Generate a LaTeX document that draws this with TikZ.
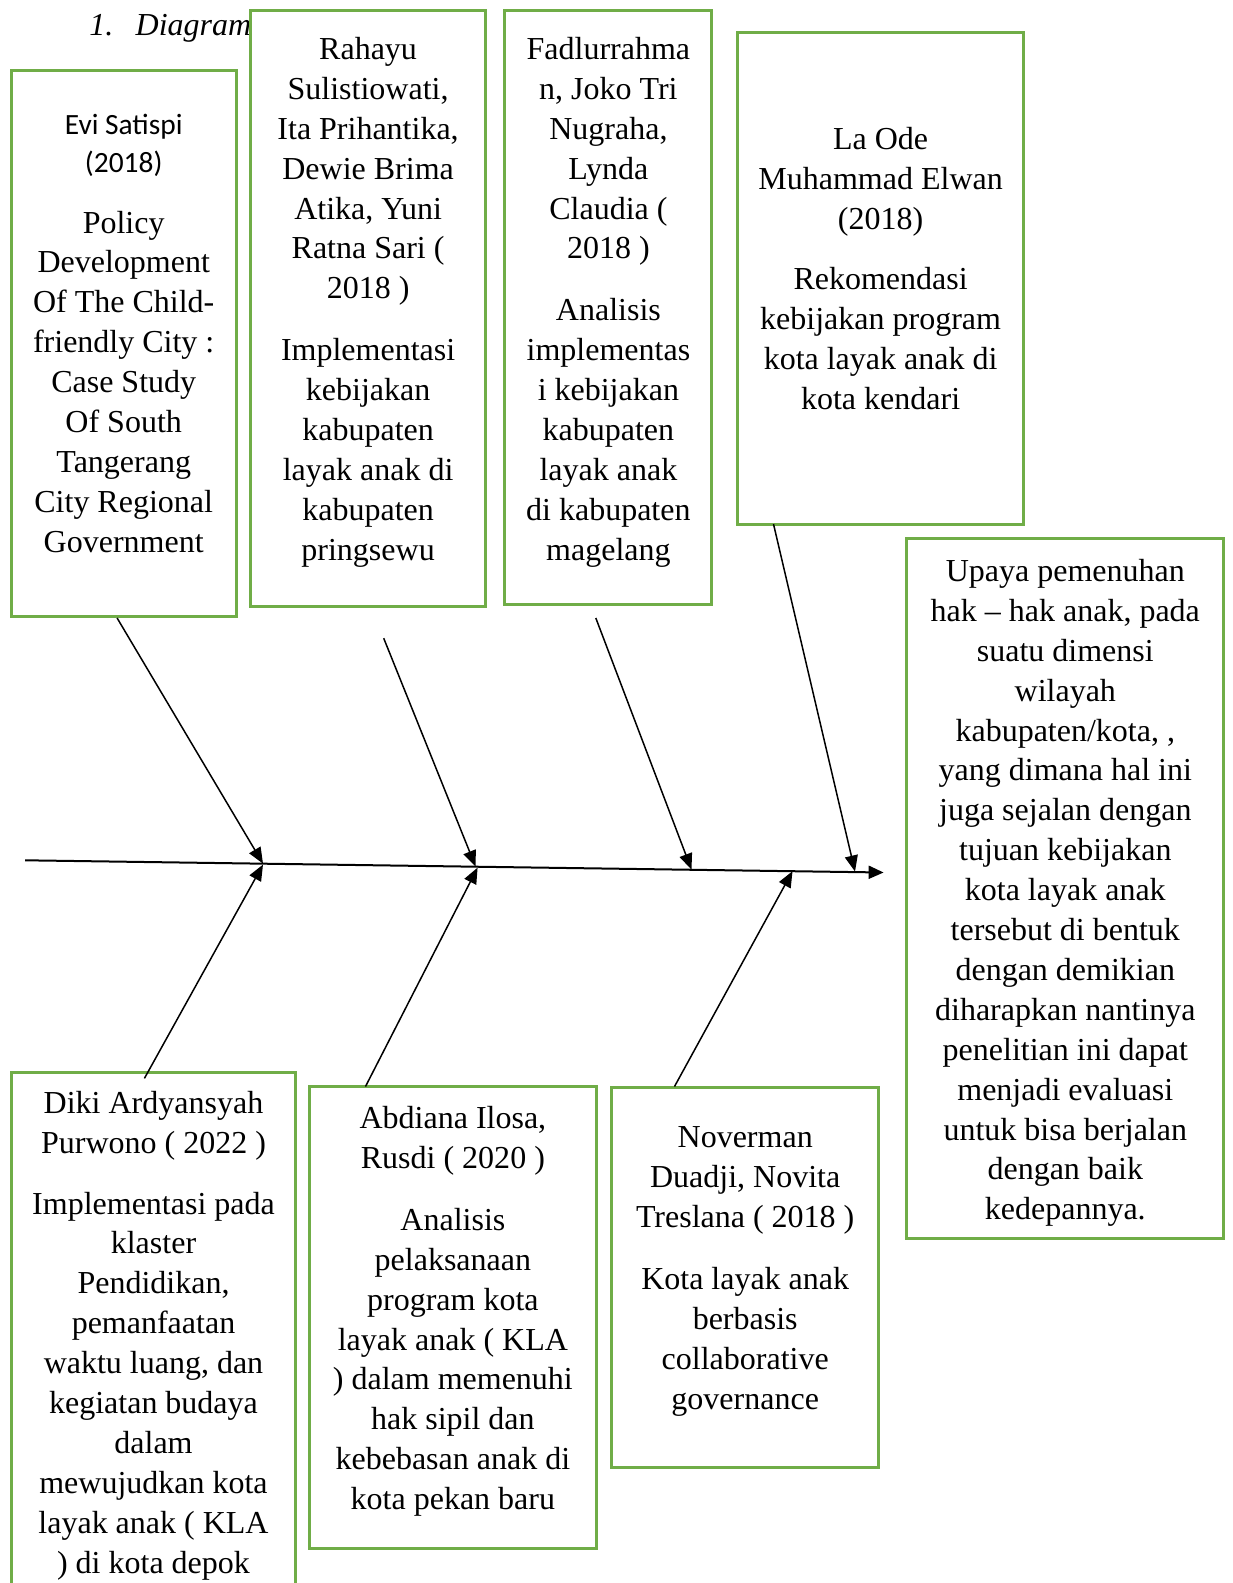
\documentclass[tikz,border=0pt]{standalone}
\usepackage{fontspec}
\setmainfont{Liberation Serif}
\newfontfamily\calib{Carlito}
\usetikzlibrary{arrows.meta}
\definecolor{boxgreen}{HTML}{70AD47}
\tikzset{
  box/.style={draw=boxgreen, line width=1.5pt, fill=white, inner sep=0pt, rectangle},
  txt/.style={font=\fontsize{16}{19.95}\selectfont, align=center, inner sep=0pt, anchor=north},
  sanstxt/.style={font=\calib\fontsize{14.7}{19.2}\selectfont, align=center, inner sep=0pt, anchor=north},
  bone/.style={line width=0.75pt, -{Triangle[length=8pt,width=6.5pt]}},
  spine/.style={line width=1pt, -{Triangle[length=7.5pt,width=6.5pt]}}
}
\begin{document}
\begin{tikzpicture}[x=0.5pt,y=-0.5pt]
\useasboundingbox (0,0) rectangle (1232,1583);
\clip (0,0) rectangle (1232,1583);
% caption
\node[font=\fontsize{16}{19.95}\selectfont\itshape, anchor=base west, inner sep=0pt] (cap1) at (88.9,35.5) {1.};
\node[font=\fontsize{16}{19.95}\selectfont\itshape, anchor=base west, inner sep=0pt] (cap2) at (135.3,35.5) {Diagram};
% boxes
\node[box, minimum width=112.6pt, minimum height=272.6pt] (b1) at (123.7,343.4) {};
\node[box, minimum width=117.6pt, minimum height=298.4pt] (b2) at (368.1,308.5) {};
\node[box, minimum width=103.5pt, minimum height=297.4pt] (b3) at (608.4,307.5) {};
\node[box, minimum width=143.3pt, minimum height=245.9pt] (b4) at (880.6,278.2) {};
\node[box, minimum width=158.5pt, minimum height=349.9pt] (b5) at (1065.4,888.1) {};
\node[box, minimum width=142.4pt, minimum height=263.8pt] (b6) at (153.5,1336.2) {};
\node[box, minimum width=143.9pt, minimum height=230.7pt] (b7) at (452.9,1317.3) {};
\node[box, minimum width=133.3pt, minimum height=189.8pt] (b8) at (745.2,1277.4) {};
% texts
\node[sanstxt] (t1a) at (123.7,107.3) {\strut Evi Satispi\\(2018)};
\node[txt] (t1b) at (123.7,204.7) {\strut Policy\\Development\\Of The Child-\\friendly City :\\Case Study\\Of South\\Tangerang\\City Regional\\Government};
\node[txt] (t2) at (368.1,31.1) {\strut Rahayu\\Sulistiowati,\\Ita Prihantika,\\Dewie Brima\\Atika, Yuni\\Ratna Sari (\\2018 )\\[10.9pt]Implementasi\\kebijakan\\kabupaten\\layak anak di\\kabupaten\\pringsewu};
\node[txt] (t3) at (608.4,31.1) {\strut Fadlurrahma\\n, Joko Tri\\Nugraha,\\Lynda\\Claudia (\\2018 )\\[10.9pt]Analisis\\implementas\\i kebijakan\\kabupaten\\layak anak\\di kabupaten\\magelang};
\node[txt] (t4) at (880.6,120.9) {\strut La Ode\\Muhammad Elwan\\(2018)\\[10.3pt]Rekomendasi\\kebijakan program\\kota layak anak di\\kota kendari};
\node[txt] (t5) at (1065.3,553.1) {\strut Upaya pemenuhan\\hak -- hak anak, pada\\suatu dimensi\\wilayah\\kabupaten/kota, ,\\yang dimana hal ini\\juga sejalan dengan\\tujuan kebijakan\\kota layak anak\\tersebut di bentuk\\dengan demikian\\diharapkan nantinya\\penelitian ini dapat\\menjadi evaluasi\\untuk bisa berjalan\\dengan baik\\kedepannya.};
\node[txt] (t6) at (153.5,1085.3) {\strut Diki Ardyansyah\\Purwono ( 2022 )\\[10.3pt]Implementasi pada\\klaster\\Pendidikan,\\pemanfaatan\\waktu luang, dan\\kegiatan budaya\\dalam\\mewujudkan kota\\layak anak ( KLA\\) di kota depok};
\node[txt] (t7) at (452.9,1100.4) {\strut Abdiana Ilosa,\\Rusdi ( 2020 )\\[10.9pt]Analisis\\pelaksanaan\\program kota\\layak anak ( KLA\\) dalam memenuhi\\hak sipil dan\\kebebasan anak di\\kota pekan baru};
\node[txt] (t8) at (745.2,1119.6) {\strut Noverman\\Duadji, Novita\\Treslana ( 2018 )\\[10.9pt]Kota layak anak\\berbasis\\collaborative\\governance};
% spine
\coordinate (sp0) at (25.2,860.3);
\coordinate (sp1) at (883.6,872.5);
\draw[spine] (sp0) -- (sp1);
% bone coordinates
\coordinate (e1) at (117.1,618);   \coordinate (h1) at (263,863.6);
\coordinate (e2) at (383.7,638.2); \coordinate (h2) at (475.6,866.6);
\coordinate (e3) at (595.8,618);   \coordinate (h3) at (691.5,869.6);
\coordinate (e4) at (773.5,524.1); \coordinate (h4) at (855,871.5);
\coordinate (e6) at (144.4,1078.4);\coordinate (h6) at (263,864.6);
\coordinate (e7) at (365.5,1086.5);\coordinate (h7) at (477.6,867.6);
\coordinate (e8) at (674.5,1086.5);\coordinate (h8) at (792.5,871.2);
\draw[bone] (e1) -- (h1);
\draw[bone] (e2) -- (h2);
\draw[bone] (e3) -- (h3);
\draw[bone] (e4) -- (h4);
\draw[bone] (e6) -- (h6);
\draw[bone] (e7) -- (h7);
\draw[bone] (e8) -- (h8);
\end{tikzpicture}
\end{document}
